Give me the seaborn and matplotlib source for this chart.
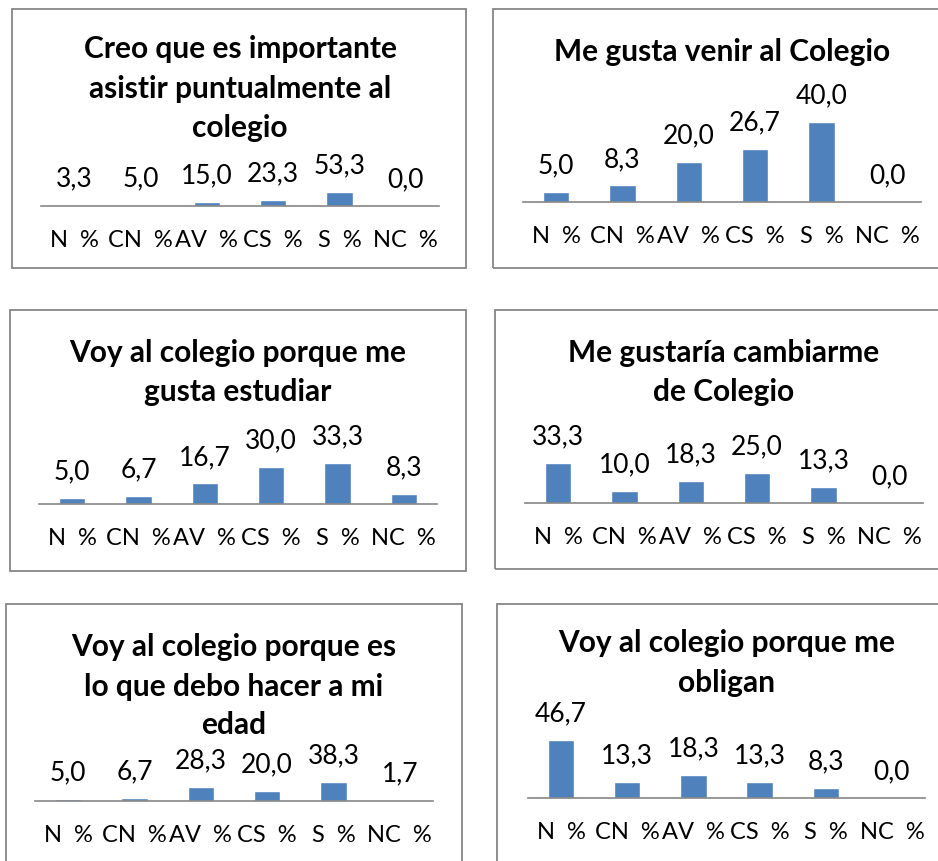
import matplotlib
matplotlib.use("Agg")
import matplotlib.pyplot as plt
import seaborn as sns
import pandas as pd
from matplotlib.patches import Rectangle

# Response categories shared by every survey item
categories = ["N  %", "CN  %", "AV  %", "CS  %", "S  %", "NC  %"]

# Survey items (title lines) and their percentages
title_puntual = ["Creo que es importante", "asistir puntualmente al", "colegio"]
values_puntual = [3.3, 5.0, 15.0, 23.3, 53.3, 0.0]

title_venir = ["Me gusta venir al Colegio"]
values_venir = [5.0, 8.3, 20.0, 26.7, 40.0, 0.0]

title_estudiar = ["Voy al colegio porque me", "gusta estudiar"]
values_estudiar = [5.0, 6.7, 16.7, 30.0, 33.3, 8.3]

title_cambiar = ["Me gustaría cambiarme", "de Colegio"]
values_cambiar = [33.3, 10.0, 18.3, 25.0, 13.3, 0.0]

title_edad = ["Voy al colegio porque es", "lo que debo hacer a mi", "edad"]
values_edad = [5.0, 6.7, 28.3, 20.0, 38.3, 1.7]

title_obligan = ["Voy al colegio porque me", "obligan"]
values_obligan = [46.7, 13.3, 18.3, 13.3, 8.3, 0.0]

BAR_COLOR = "#4F81BD"
LINE_GRAY = "#868686"

sns.set_theme(style="white")
plt.rcParams["font.family"] = ["Lato", "DejaVu Sans"]

W, H = 938, 861
fig = plt.figure(figsize=(W / 100, H / 100), dpi=100)

# Panel geometry in pixels: frame box, axis span, baseline, pixels per percent,
# and vertical centres of the title lines
panels = [
    dict(title=title_puntual, values=values_puntual, box=(12, 9, 466, 268),
         xspan=(41, 439), base=206, scale=0.263, ty=[49, 89, 128]),
    dict(title=title_venir, values=values_venir, box=(493, 9, 960, 268),
         xspan=(523, 921), base=202, scale=2.0, ty=[52]),
    dict(title=title_estudiar, values=values_estudiar, box=(10, 310, 466, 571),
         xspan=(39, 437), base=504, scale=1.23, ty=[353, 392]),
    dict(title=title_cambiar, values=values_cambiar, box=(495, 310, 960, 569),
         xspan=(525, 923), base=503, scale=1.2, ty=[353, 392]),
    dict(title=title_edad, values=values_edad, box=(6, 604, 462, 890),
         xspan=(35, 433), base=801, scale=0.5, ty=[647, 687, 725]),
    dict(title=title_obligan, values=values_obligan, box=(497, 604, 960, 890),
         xspan=(528, 925), base=798, scale=1.24, ty=[643, 683]),
]

AX_HEIGHT = 100  # pixels above the baseline reserved for the bars

for p in panels:
    bx0, by0, bx1, by1 = p["box"]
    fig.add_artist(Rectangle((bx0 / W, 1 - by1 / H), (bx1 - bx0) / W, (by1 - by0) / H,
                             transform=fig.transFigure, fill=False,
                             edgecolor=LINE_GRAY, linewidth=1.3))

    x0, x1 = p["xspan"]
    base = p["base"]
    ax = fig.add_axes([x0 / W, 1 - base / H, (x1 - x0) / W, AX_HEIGHT / H])
    df = pd.DataFrame({"cat": categories, "val": p["values"]})
    sns.barplot(data=df, x="cat", y="val", order=categories, color=BAR_COLOR,
                saturation=1, width=0.4, ax=ax)
    ax.set_xlim(-0.5, len(categories) - 0.5)
    ax.set_ylim(0, AX_HEIGHT / p["scale"])
    ax.set_xlabel("")
    ax.set_ylabel("")
    ax.set_yticks([])
    for s in ("top", "left", "right"):
        ax.spines[s].set_visible(False)
    ax.spines["bottom"].set_color(LINE_GRAY)
    ax.spines["bottom"].set_linewidth(1.2)
    ax.patch.set_alpha(0)
    ax.tick_params(axis="x", length=0, pad=25, labelsize=17, colors="black")
    for lab in ax.get_xticklabels():
        lab.set_va("center")

    for i, v in enumerate(p["values"]):
        ax.annotate(f"{v:.1f}".replace(".", ","), xy=(i, v), xytext=(0, 26),
                    textcoords="offset pixels", ha="center", va="center",
                    fontsize=19, color="black")

    cx = (x0 + x1) / 2 / W
    for line, y in zip(p["title"], p["ty"]):
        fig.text(cx, 1 - y / H, line, ha="center", va="center",
                 fontsize=21.5, fontweight="bold", color="black")

fig.savefig("out.png", dpi=100, facecolor="white")
